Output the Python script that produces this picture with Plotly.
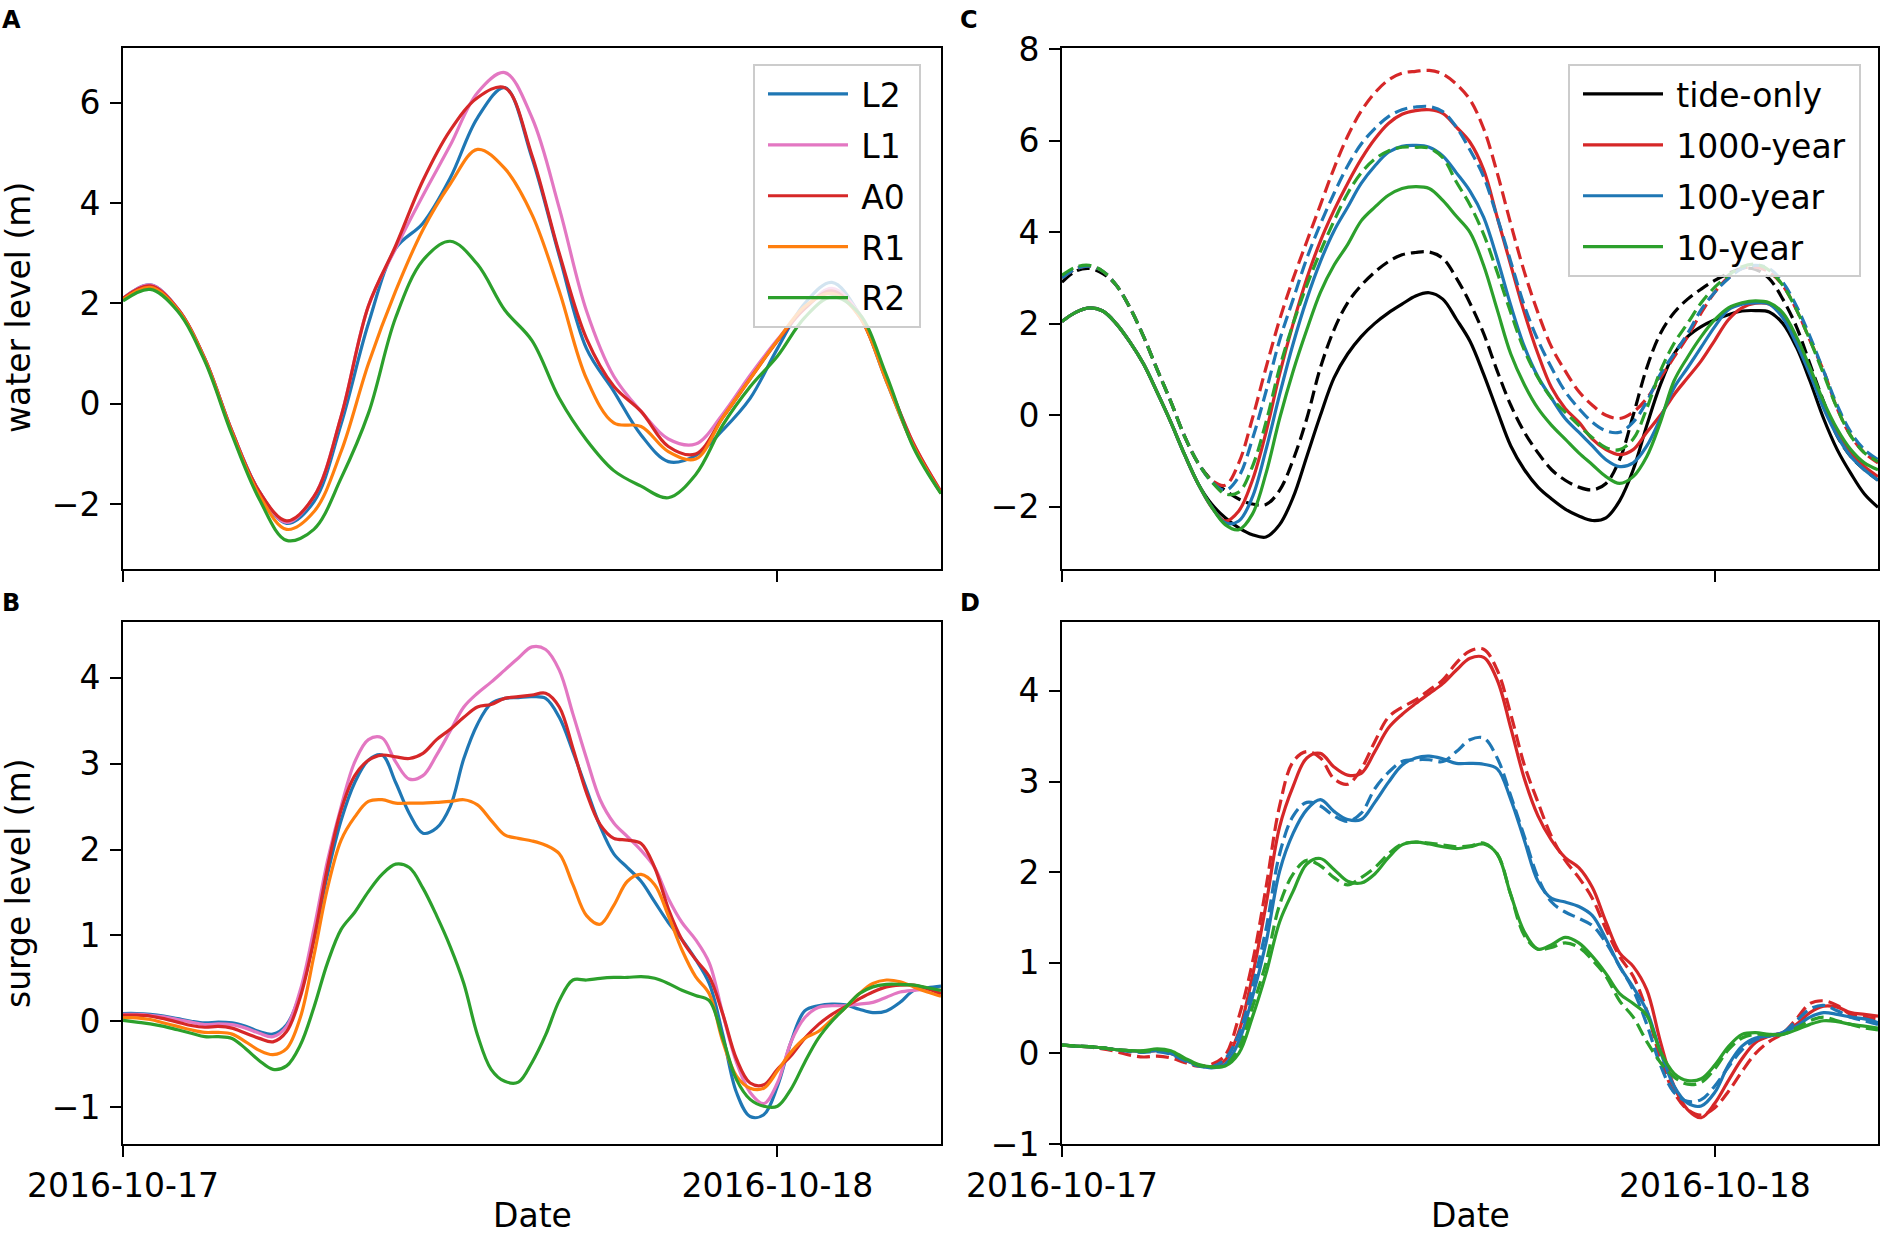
import pandas as pd
import plotly.graph_objects as go

# ---------------- time axes ----------------
t_hourly = pd.date_range("2016-10-17 00:00", periods=31, freq="h")
t_half = pd.date_range("2016-10-17 00:00", periods=61, freq="30min")

# ---------------- Panel A: water level (m), hourly ----------------
a_L2 = [2.10, 2.37, 1.90, 0.90, -0.55, -1.75, -2.38, -1.95, -0.40, 1.60, 3.10, 3.60, 4.50, 5.70, 6.30,
        4.90, 2.95, 1.10, 0.25, -0.62, -1.15, -1.03, -0.52, 0.11, 1.10, 2.00, 2.42, 1.79, 0.45, -0.85, -1.78]
a_L1 = [2.10, 2.37, 1.90, 0.90, -0.55, -1.75, -2.36, -1.85, -0.25, 1.95, 3.10, 4.15, 5.15, 6.20, 6.60,
        5.70, 3.90, 1.85, 0.55, -0.15, -0.70, -0.80, -0.20, 0.57, 1.28, 1.90, 2.30, 1.80, 0.50, -0.80, -1.75]
a_A0 = [2.10, 2.35, 1.90, 0.90, -0.55, -1.75, -2.33, -1.85, -0.25, 1.95, 3.15, 4.45, 5.45, 6.10, 6.30,
        4.95, 3.00, 1.30, 0.35, -0.15, -0.85, -1.00, -0.27, 0.50, 1.25, 1.90, 2.25, 1.75, 0.50, -0.80, -1.75]
a_R1 = [2.08, 2.32, 1.88, 0.88, -0.58, -1.82, -2.50, -2.15, -0.95, 0.80, 2.25, 3.47, 4.38, 5.07, 4.69,
        3.77, 2.25, 0.50, -0.38, -0.45, -0.95, -1.10, -0.27, 0.50, 1.26, 1.94, 2.20, 1.75, 0.45, -0.85, -1.78]
a_R2 = [2.05, 2.28, 1.85, 0.85, -0.62, -1.90, -2.72, -2.50, -1.48, -0.19, 1.72, 2.86, 3.24, 2.78, 1.87,
        1.26, 0.11, -0.72, -1.33, -1.64, -1.87, -1.41, -0.42, 0.34, 0.95, 1.72, 2.13, 1.80, 0.57, -0.88, -1.79]

# ---------------- Panel B: surge level (m), half-hourly ----------------
b_L2 = [0.09, 0.09, 0.08, 0.06, 0.03, 0.00, -0.02, -0.01, -0.02, -0.06, -0.12, -0.15,
        -0.04, 0.32, 0.95, 1.71, 2.34, 2.78, 3.04, 3.10,
        2.78, 2.42, 2.19, 2.25, 2.50, 3.06, 3.46, 3.70, 3.76, 3.77,
        3.78, 3.76, 3.54, 3.14, 2.70, 2.27, 1.95, 1.79, 1.63, 1.39,
        1.15, 0.95, 0.72, 0.44, -0.16, -0.83, -1.11, -1.09, -0.76, -0.24,
        0.12, 0.18, 0.20, 0.19, 0.14, 0.10, 0.12, 0.22, 0.36, 0.39, 0.41]
b_L1 = [0.08, 0.08, 0.07, 0.05, 0.02, -0.01, -0.04, -0.03, -0.04, -0.08, -0.14, -0.18,
        -0.06, 0.36, 1.07, 1.87, 2.50, 3.02, 3.28, 3.30,
        3.02, 2.82, 2.86, 3.10, 3.38, 3.66, 3.82, 3.95, 4.09, 4.23,
        4.36, 4.33, 4.09, 3.58, 3.06, 2.58, 2.31, 2.15, 1.99, 1.79,
        1.43, 1.15, 0.95, 0.68, 0.08, -0.48, -0.83, -0.96, -0.72, -0.24,
        0.04, 0.16, 0.18, 0.18, 0.20, 0.22, 0.28, 0.34, 0.36, 0.37, 0.36]
b_A0 = [0.07, 0.07, 0.06, 0.03, -0.01, -0.05, -0.07, -0.06, -0.08, -0.14, -0.20, -0.24,
        -0.12, 0.28, 0.95, 1.79, 2.46, 2.86, 3.04, 3.10,
        3.08, 3.06, 3.12, 3.28, 3.40, 3.54, 3.66, 3.69, 3.76, 3.78,
        3.80, 3.82, 3.66, 3.18, 2.66, 2.29, 2.13, 2.11, 2.07, 1.79,
        1.31, 0.95, 0.72, 0.52, 0.08, -0.44, -0.72, -0.74, -0.56, -0.40,
        -0.20, -0.04, 0.08, 0.17, 0.26, 0.34, 0.40, 0.42, 0.42, 0.38, 0.32]
b_R1 = [0.04, 0.04, 0.02, -0.02, -0.06, -0.10, -0.13, -0.13, -0.15, -0.24, -0.34, -0.39,
        -0.32, 0.04, 0.76, 1.55, 2.11, 2.38, 2.56, 2.58,
        2.54, 2.54, 2.54, 2.55, 2.56, 2.58, 2.52, 2.34, 2.17, 2.13,
        2.10, 2.05, 1.95, 1.59, 1.23, 1.13, 1.35, 1.63, 1.71, 1.59,
        1.23, 0.83, 0.52, 0.32, -0.24, -0.64, -0.78, -0.78, -0.58, -0.36,
        -0.20, -0.12, 0.02, 0.16, 0.32, 0.44, 0.48, 0.46, 0.40, 0.34, 0.29]
b_R2 = [0.01, -0.01, -0.03, -0.06, -0.10, -0.14, -0.18, -0.18, -0.20, -0.32, -0.46, -0.56,
        -0.52, -0.28, 0.16, 0.68, 1.07, 1.27, 1.51, 1.71,
        1.83, 1.79, 1.55, 1.23, 0.87, 0.44, -0.16, -0.56, -0.70, -0.71,
        -0.48, -0.16, 0.24, 0.48, 0.48, 0.50, 0.51, 0.51, 0.52, 0.50,
        0.44, 0.36, 0.30, 0.24, -0.20, -0.68, -0.91, -0.99, -0.99, -0.79,
        -0.48, -0.20, 0.00, 0.16, 0.32, 0.40, 0.43, 0.43, 0.42, 0.39, 0.36]

# ---------------- Panel C: water level (m), half-hourly (solid = present, dashed = future) ----------------
c_tide = [2.05, 2.25, 2.35, 2.28, 2.00, 1.60, 1.12, 0.50, -0.15, -0.85, -1.49, -1.94,
          -2.24, -2.46, -2.61, -2.66, -2.39, -1.79, -0.90, 0.00,
          0.82, 1.34, 1.72, 2.01, 2.24, 2.43, 2.61, 2.68, 2.54, 2.10,
          1.62, 0.90, 0.10, -0.67, -1.19, -1.57, -1.83, -2.05, -2.20, -2.30,
          -2.24, -1.87, -1.19, -0.22, 0.67, 1.34, 1.72, 1.94, 2.09, 2.20,
          2.28, 2.29, 2.26, 2.01, 1.49, 0.75, -0.07, -0.75, -1.27, -1.72, -2.01]
c_1000 = [2.05, 2.25, 2.35, 2.28, 2.00, 1.60, 1.12, 0.50, -0.15, -0.85, -1.49, -2.01,
          -2.31, -2.09, -1.42, -0.37, 0.90, 2.01, 2.99, 3.81,
          4.48, 5.07, 5.60, 6.04, 6.38, 6.58, 6.66, 6.68, 6.60, 6.30,
          5.97, 5.37, 4.33, 3.28, 2.24, 1.34, 0.60, 0.15, -0.15, -0.52,
          -0.75, -0.86, -0.75, -0.37, 0.00, 0.45, 0.82, 1.19, 1.64, 2.09,
          2.35, 2.45, 2.43, 2.16, 1.64, 0.97, 0.22, -0.37, -0.82, -1.12, -1.34]
c_100 = [2.05, 2.25, 2.35, 2.28, 2.00, 1.60, 1.12, 0.50, -0.15, -0.85, -1.49, -2.00,
         -2.35, -2.31, -1.79, -0.75, 0.45, 1.57, 2.54, 3.36,
         4.03, 4.55, 5.07, 5.45, 5.75, 5.88, 5.90, 5.86, 5.67, 5.30,
         4.90, 4.33, 3.43, 2.40, 1.50, 0.84, 0.37, -0.07, -0.37, -0.67,
         -0.97, -1.12, -1.04, -0.67, -0.07, 0.60, 1.04, 1.49, 1.94, 2.31,
         2.43, 2.46, 2.43, 2.13, 1.57, 0.90, 0.15, -0.45, -0.90, -1.19, -1.42]
c_10 = [2.05, 2.25, 2.35, 2.28, 2.00, 1.60, 1.12, 0.50, -0.15, -0.85, -1.49, -2.00,
        -2.39, -2.50, -2.16, -1.27, -0.07, 0.97, 1.87, 2.69,
        3.28, 3.73, 4.25, 4.55, 4.81, 4.96, 5.00, 4.96, 4.70, 4.35,
        4.00, 3.28, 2.31, 1.34, 0.67, 0.15, -0.22, -0.52, -0.82, -1.08,
        -1.34, -1.49, -1.34, -0.90, -0.15, 0.75, 1.27, 1.72, 2.09, 2.35,
        2.46, 2.50, 2.46, 2.24, 1.72, 1.04, 0.30, -0.30, -0.75, -1.04, -1.19]
c_tide_fut = [2.91, 3.15, 3.21, 3.10, 2.84, 2.35, 1.72, 1.00, 0.30, -0.45, -1.04, -1.42,
              -1.64, -1.83, -1.94, -1.95, -1.64, -0.97, -0.07, 1.04,
              1.87, 2.46, 2.84, 3.13, 3.36, 3.51, 3.56, 3.57, 3.43, 3.00,
              2.45, 1.79, 0.97, 0.22, -0.37, -0.82, -1.19, -1.42, -1.57, -1.63,
              -1.49, -0.97, 0.00, 1.04, 1.79, 2.24, 2.54, 2.76, 2.95, 3.10,
              3.21, 3.19, 2.99, 2.54, 1.94, 1.12, 0.30, -0.45, -0.90, -1.19, -1.42]
c_1000_fut = [3.00, 3.20, 3.26, 3.15, 2.84, 2.35, 1.72, 1.00, 0.30, -0.45, -1.04, -1.42,
              -1.53, -1.04, -0.07, 1.04, 2.09, 2.99, 3.80, 4.60,
              5.40, 6.10, 6.65, 7.05, 7.33, 7.48, 7.52, 7.54, 7.46, 7.24,
              6.90, 6.27, 5.30, 4.18, 3.13, 2.24, 1.49, 0.97, 0.52, 0.22,
              0.00, -0.07, 0.07, 0.37, 0.82, 1.27, 1.72, 2.24, 2.69, 3.02,
              3.21, 3.24, 3.13, 2.84, 2.31, 1.64, 0.97, 0.15, -0.45, -0.82, -1.04]
c_100_fut = [3.00, 3.20, 3.26, 3.15, 2.84, 2.35, 1.72, 1.00, 0.30, -0.45, -1.04, -1.45,
             -1.64, -1.34, -0.52, 0.52, 1.64, 2.54, 3.43, 4.18,
             4.85, 5.45, 5.93, 6.27, 6.53, 6.68, 6.74, 6.75, 6.64, 6.30,
             5.80, 5.22, 4.33, 3.36, 2.39, 1.64, 1.04, 0.52, 0.15, -0.15,
             -0.34, -0.37, -0.15, 0.30, 0.90, 1.34, 1.79, 2.31, 2.69, 2.99,
             3.21, 3.28, 3.21, 2.91, 2.39, 1.72, 0.97, 0.22, -0.37, -0.75, -0.97]
c_10_fut = [3.06, 3.24, 3.28, 3.15, 2.84, 2.35, 1.72, 1.00, 0.30, -0.45, -1.04, -1.45,
            -1.72, -1.68, -1.12, -0.15, 1.04, 2.01, 2.84, 3.58,
            4.25, 4.85, 5.30, 5.60, 5.78, 5.86, 5.86, 5.84, 5.63, 5.10,
            4.60, 3.96, 3.13, 2.24, 1.42, 0.82, 0.37, 0.07, -0.22, -0.49,
            -0.71, -0.75, -0.52, 0.15, 0.97, 1.57, 2.01, 2.46, 2.80, 3.06,
            3.25, 3.30, 3.17, 2.84, 2.31, 1.64, 0.90, 0.15, -0.45, -0.82, -1.01]

# ---------------- Panel D: surge level (m), half-hourly ----------------
d_1000 = [0.09, 0.08, 0.075, 0.06, 0.04, 0.03, 0.02, 0.03, 0.00, -0.07, -0.13, -0.15,
          -0.075, 0.24, 0.85, 1.64, 2.50, 2.95, 3.26, 3.31,
          3.16, 3.07, 3.09, 3.33, 3.59, 3.74, 3.86, 3.97, 4.08, 4.23,
          4.36, 4.37, 4.12, 3.59, 3.03, 2.62, 2.35, 2.16, 2.05, 1.83,
          1.45, 1.11, 0.96, 0.70, 0.13, -0.36, -0.62, -0.71, -0.55, -0.30,
          -0.06, 0.12, 0.19, 0.23, 0.32, 0.45, 0.52, 0.51, 0.45, 0.43, 0.41]
d_1000_fut = [0.09, 0.08, 0.07, 0.05, 0.02, -0.02, -0.04, -0.03, -0.05, -0.10, -0.14, -0.12,
              -0.02, 0.40, 1.00, 1.83, 2.73, 3.22, 3.33, 3.26,
              3.03, 2.97, 3.14, 3.44, 3.71, 3.82, 3.90, 4.01, 4.12, 4.31,
              4.44, 4.46, 4.23, 3.74, 3.18, 2.77, 2.39, 2.13, 1.94, 1.71,
              1.37, 1.07, 0.85, 0.47, -0.06, -0.43, -0.62, -0.68, -0.60, -0.42,
              -0.20, 0.00, 0.13, 0.22, 0.38, 0.55, 0.58, 0.53, 0.43, 0.40, 0.38]
d_100 = [0.09, 0.08, 0.075, 0.06, 0.04, 0.03, 0.02, 0.03, 0.00, -0.07, -0.13, -0.16,
         -0.12, 0.13, 0.62, 1.22, 2.01, 2.43, 2.69, 2.80,
         2.67, 2.58, 2.58, 2.77, 2.99, 3.18, 3.26, 3.28, 3.25, 3.20,
         3.20, 3.19, 3.14, 2.80, 2.35, 1.90, 1.71, 1.67, 1.62, 1.52,
         1.26, 0.96, 0.73, 0.47, 0.02, -0.36, -0.55, -0.58, -0.43, -0.13,
         0.08, 0.17, 0.19, 0.23, 0.30, 0.40, 0.45, 0.43, 0.40, 0.38, 0.34]
d_100_fut = [0.09, 0.08, 0.075, 0.06, 0.04, 0.02, 0.01, 0.02, -0.01, -0.08, -0.14, -0.15,
             -0.06, 0.21, 0.73, 1.37, 2.20, 2.62, 2.77, 2.73,
             2.62, 2.56, 2.65, 2.92, 3.10, 3.22, 3.24, 3.24, 3.22, 3.33,
             3.46, 3.48, 3.26, 2.84, 2.39, 1.94, 1.67, 1.56, 1.49, 1.41,
             1.22, 0.96, 0.70, 0.32, -0.13, -0.43, -0.53, -0.51, -0.36, -0.15,
             0.04, 0.15, 0.20, 0.23, 0.36, 0.49, 0.53, 0.47, 0.40, 0.36, 0.32]
d_10 = [0.09, 0.08, 0.075, 0.06, 0.04, 0.03, 0.03, 0.05, 0.03, -0.05, -0.12, -0.15,
        -0.14, 0.00, 0.40, 0.88, 1.45, 1.79, 2.09, 2.15,
        2.03, 1.90, 1.88, 1.98, 2.16, 2.30, 2.33, 2.31, 2.28, 2.26,
        2.28, 2.31, 2.20, 1.75, 1.34, 1.15, 1.20, 1.28, 1.22, 1.07,
        0.88, 0.66, 0.55, 0.42, 0.02, -0.22, -0.30, -0.28, -0.13, 0.075,
        0.21, 0.23, 0.21, 0.21, 0.26, 0.32, 0.36, 0.35, 0.32, 0.30, 0.28]
d_10_fut = [0.09, 0.08, 0.075, 0.06, 0.04, 0.03, 0.02, 0.04, 0.02, -0.06, -0.13, -0.15,
            -0.13, 0.06, 0.51, 1.00, 1.64, 1.98, 2.13, 2.07,
            1.94, 1.86, 1.94, 2.05, 2.20, 2.31, 2.33, 2.32, 2.30, 2.28,
            2.29, 2.32, 2.20, 1.75, 1.30, 1.15, 1.17, 1.22, 1.17, 1.03,
            0.85, 0.58, 0.40, 0.13, -0.10, -0.26, -0.34, -0.32, -0.17, 0.04,
            0.17, 0.21, 0.20, 0.21, 0.28, 0.36, 0.40, 0.36, 0.32, 0.28, 0.26]

# ---------------- labels / ticks ----------------
date_ticks = ["2016-10-17", "2016-10-18"]
date_range = ["2016-10-17 00:00:00", "2016-10-18 06:00:00"]
ticks_A = [-2, 0, 2, 4, 6]
ticks_B = [-1, 0, 1, 2, 3, 4]
ticks_C = [-2, 0, 2, 4, 6, 8]
ticks_D = [-1, 0, 1, 2, 3, 4]

BLUE, ORANGE, GREEN, RED, PINK, BLACK = "#1f77b4", "#ff7f0e", "#2ca02c", "#d62728", "#e377c2", "#000000"
FONT = "DejaVu Sans"
LW = 3.2
DASH = "13px,6px"
SP = "\u2005"   # small spacing used in legend labels (handle-text gap)

W, H = 1881, 1241
fig = go.Figure()


def add(x, y, color, name, xa, ya, dash="solid", legend=None, show=False):
    fig.add_trace(go.Scatter(
        x=x, y=y, mode="lines", name=(SP + name + SP) if show else name,
        line=dict(color=color, width=LW, dash=dash, shape="spline", smoothing=1.0),
        xaxis=xa, yaxis=ya, showlegend=show, legend=legend,
        legendgroup=name if show else None,
    ))


# Panel A
for ys, c, n in [(a_L2, BLUE, "L2"), (a_L1, PINK, "L1"), (a_A0, RED, "A0"),
                 (a_R1, ORANGE, "R1"), (a_R2, GREEN, "R2")]:
    add(t_hourly, ys, c, n, "x", "y", legend="legend", show=True)

# Panel B
for ys, c, n in [(b_L2, BLUE, "L2"), (b_L1, PINK, "L1"), (b_A0, RED, "A0"),
                 (b_R1, ORANGE, "R1"), (b_R2, GREEN, "R2")]:
    add(t_half, ys, c, n + " surge", "x3", "y3")

# Panel C
for ys, yf, c, n in [(c_tide, c_tide_fut, BLACK, "tide-only"), (c_1000, c_1000_fut, RED, "1000-year"),
                     (c_100, c_100_fut, BLUE, "100-year"), (c_10, c_10_fut, GREEN, "10-year")]:
    add(t_half, ys, c, n, "x2", "y2", legend="legend2", show=True)
    add(t_half, yf, c, n + " (future)", "x2", "y2", dash=DASH)

# Panel D
for ys, yf, c, n in [(d_1000, d_1000_fut, RED, "1000-year"), (d_100, d_100_fut, BLUE, "100-year"),
                     (d_10, d_10_fut, GREEN, "10-year")]:
    add(t_half, ys, c, n + " surge", "x4", "y4")
    add(t_half, yf, c, n + " surge (future)", "x4", "y4", dash=DASH)

# ---------------- axes ----------------
xl = [123 / W, 941 / W]
xr = [1062 / W, 1878 / W]
yt = [1 - 569 / H, 1 - 48 / H]
yb = [1 - 1144 / H, 1 - 622 / H]

tickfont = dict(family=FONT, size=33, color="black")
common = dict(showline=True, linecolor="black", linewidth=2, mirror=True, showgrid=False,
              zeroline=False, ticks="outside", ticklen=11, tickwidth=2, tickcolor="black",
              tickfont=tickfont, automargin=False)


def xaxis(domain, anchor, labels):
    return dict(domain=domain, anchor=anchor, type="date", range=date_range,
                tickmode="array", tickvals=date_ticks, ticktext=date_ticks,
                showticklabels=labels, ticklabelstandoff=0, **common)


def yaxis(domain, anchor, rng, tv):
    return dict(domain=domain, anchor=anchor, range=rng, tickmode="array", tickvals=tv,
                ticklabelstandoff=3, **common)


legend_style = dict(yanchor="top", xanchor="right", bgcolor="rgba(255,255,255,0.8)",
                    bordercolor="#cccccc", borderwidth=2,
                    font=dict(family=FONT, size=33, color="black"), itemwidth=80,
                    tracegroupgap=5, traceorder="grouped", indentation=8)

fig.update_layout(
    template="none",
    width=W, height=H,
    margin=dict(l=0, r=0, t=0, b=0, pad=0, autoexpand=False),
    paper_bgcolor="white", plot_bgcolor="white",
    font=dict(family=FONT, size=33, color="black"),
    xaxis=xaxis(xl, "y", False),
    yaxis=yaxis(yt, "x", [-3.29, 7.09], ticks_A),
    xaxis2=xaxis(xr, "y2", False),
    yaxis2=yaxis(yt, "x2", [-3.36, 8.03], ticks_C),
    xaxis3=xaxis(xl, "y3", True),
    yaxis3=yaxis(yb, "x3", [-1.43, 4.65], ticks_B),
    xaxis4=xaxis(xr, "y4", True),
    yaxis4=yaxis(yb, "x4", [-1.0, 4.76], ticks_D),
    legend=dict(x=921 / W, y=1 - 64 / H, **legend_style),
    legend2=dict(x=1861 / W, y=1 - 64 / H, **legend_style),
)

ann = []
for txt, px, py in [("A", 0, 4), ("B", 0, 587), ("C", 958, 4), ("D", 958, 587)]:
    ann.append(dict(text="<b>%s</b>" % txt, x=px / W, y=1 - py / H, xref="paper", yref="paper",
                    xanchor="left", yanchor="top", showarrow=False,
                    font=dict(family=FONT, size=24, color="black")))
for txt, py in [("water level (m)", 308), ("surge level (m)", 883)]:
    ann.append(dict(text=txt, x=18 / W, y=1 - py / H, xref="paper", yref="paper",
                    xanchor="center", yanchor="middle", textangle=-90, showarrow=False,
                    font=dict(family=FONT, size=33, color="black")))
for px in [532, 1470]:
    ann.append(dict(text="Date", x=px / W, y=1 - 1194 / H, xref="paper", yref="paper",
                    xanchor="center", yanchor="top", showarrow=False,
                    font=dict(family=FONT, size=33, color="black")))
fig.update_layout(annotations=ann)

fig.write_html("out.html", config={"displayModeBar": False},
               post_script="document.body.style.margin='0px';document.body.style.overflow='hidden';")
